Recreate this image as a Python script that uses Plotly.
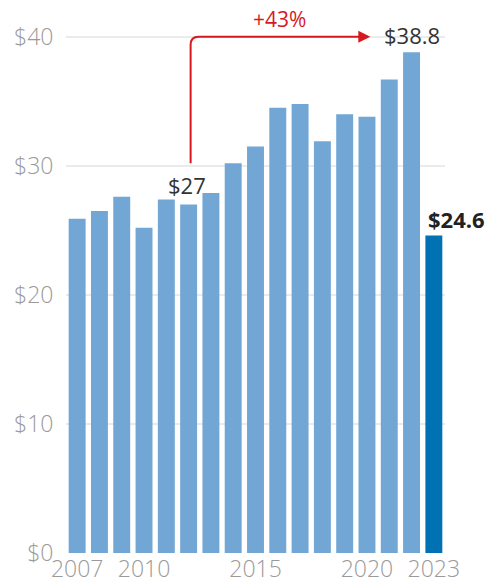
import plotly.graph_objects as go

years = list(range(2007, 2024))
values = [25.9, 26.5, 27.6, 25.2, 27.4, 27.0, 27.9, 30.2, 31.5, 34.5, 34.8,
          31.9, 34.0, 33.8, 36.7, 38.8, 24.6]
y_ticks = [0, 10, 20, 30, 40]
y_tick_labels = ["$0", "$10", "$20", "$30", "$40"]
x_ticks = [2007, 2010, 2015, 2020, 2023]
change_label = "+43%"

LIGHT = "#72a7d5"
DARK = "#0071b2"
RED = "#d7191f"
colors = [LIGHT] * (len(years) - 1) + [DARK]

fig = go.Figure(go.Bar(x=years, y=values, marker=dict(color=colors, line=dict(width=0)),
                       hoverinfo="skip"))

base_year, peak_year = 2012, 2022
base_val = values[years.index(base_year)]
peak_val = values[years.index(peak_year)]

start_y = base_val + 3.2
top_y = 40
end_x = 2020.15
vx = base_year + 0.09
rx, ry = 0.36, 0.62
fig.add_shape(type="path",
              path=f"M {vx},{start_y} L {vx},{top_y-ry} "
                   f"Q {vx},{top_y} {vx+rx},{top_y} L {end_x-0.3},{top_y}",
              xref="x", yref="y", line=dict(color=RED, width=2))
fig.add_annotation(x=end_x, y=top_y, ax=end_x - 0.4, ay=top_y, xref="x", yref="y",
                   axref="x", ayref="y", showarrow=True, arrowhead=2, arrowsize=1.2,
                   arrowwidth=2, arrowcolor=RED, text="")
fig.add_annotation(x=(base_year + end_x) / 2, y=top_y, text=change_label, showarrow=False,
                   yanchor="bottom", yshift=2,
                   font=dict(family="Open Sans", size=21, color=RED))
fig.add_annotation(x=base_year, y=base_val, text=f"${base_val:g}", showarrow=False,
                   yanchor="bottom", yshift=3, xshift=-2,
                   font=dict(family="Open Sans", size=22, color="#333333"))
fig.add_annotation(x=peak_year, y=peak_val, text=f"${peak_val:g}", showarrow=False,
                   yanchor="bottom", yshift=0,
                   font=dict(family="Open Sans", size=22, color="#333333"))
fig.add_annotation(x=years[-1], y=values[-1], text=f"<b>${values[-1]:g}</b>", showarrow=False,
                   yanchor="bottom", xanchor="left", yshift=0, xshift=-8,
                   font=dict(family="Open Sans", size=22, color="#222222"))

fig.update_layout(
    width=503, height=588,
    margin=dict(l=66, r=58, t=11, b=35, autoexpand=False),
    plot_bgcolor="white", paper_bgcolor="white",
    bargap=0.24, showlegend=False,
    font=dict(family="Open Sans", size=22, color="#9a9a9a"),
    xaxis=dict(range=[2006.5, 2023.5], tickvals=x_ticks, ticktext=[str(t) for t in x_ticks],
               showgrid=False, zeroline=False, showline=False, ticks="", automargin=False,
               tickfont=dict(family="Open Sans", size=23, color="#9a9a9a", weight=300)),
    yaxis=dict(range=[0, 42], tickvals=y_ticks, ticktext=y_tick_labels, automargin=False,
               showgrid=True, gridcolor="#ebebeb", gridwidth=2, zeroline=False,
               showline=False, ticks="outside", ticklen=7, tickcolor="rgba(0,0,0,0)",
               tickfont=dict(family="Open Sans", size=23, color="#9a9a9a", weight=300)),
)

fig.write_html("out.html", config={"displayModeBar": False},
               post_script="document.body.style.margin='0';")
